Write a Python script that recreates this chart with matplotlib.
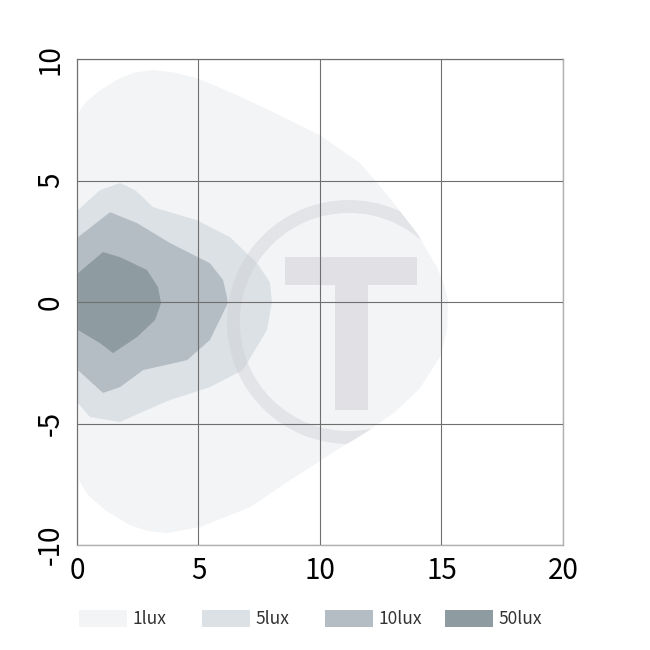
import matplotlib
matplotlib.use("Agg")
import matplotlib.pyplot as plt
from matplotlib.patches import Rectangle, Wedge

plt.rcParams['font.family'] = ['Noto Sans CJK SC', 'DejaVu Sans']

# isolux outlines (x in m, y in m)
lux1_x = [0.08, 0.25, 0.45, 0.95, 1.77, 2.4, 3.13, 4.0, 4.94, 6.58, 8.23, 10.0, 11.65, 12.88, 13.99, 14.81, 15.1, 15.27,
          15.23, 14.94, 14.12, 13.09, 11.85, 10.70, 8.77, 7.12, 5.06, 3.70, 2.9, 2.18, 1.15, 0.45, 0.08]
lux1_y = [7.82, 8.08, 8.31, 8.72, 9.22, 9.45, 9.55, 9.45, 9.22, 8.52, 7.74, 6.87, 5.72, 4.28, 2.84, 1.44, 0.75, 0.08,
          -1.15, -2.26, -3.54, -4.53, -5.39, -6.09, -7.33, -8.44, -9.26, -9.51, -9.42, -9.18, -8.56, -7.94, -7.33]

lux5_x = [0.04, 0.95, 1.77, 2.39, 3.13, 4.94, 6.30, 7.41, 7.94, 8.02, 7.82, 6.83, 5.47, 3.83, 2.88, 1.77, 0.53, 0.04]
lux5_y = [3.79, 4.61, 4.90, 4.61, 3.91, 3.37, 2.67, 1.60, 0.82, 0.0, -1.15, -2.80, -3.50, -4.03, -4.44, -4.94, -4.73, -4.16]

lux10_x = [0.04, 1.36, 2.47, 3.83, 5.47, 6.01, 6.17, 6.21, 6.01, 5.47, 4.53, 2.72, 1.77, 1.07, 0.04]
lux10_y = [2.67, 3.70, 3.25, 2.43, 1.60, 0.91, 0.21, -0.04, -0.45, -1.56, -2.39, -2.80, -3.50, -3.74, -2.80]

lux50_x = [0.04, 1.07, 1.77, 2.88, 3.33, 3.46, 3.21, 2.47, 1.48, 0.95, 0.04]
lux50_y = [1.19, 2.06, 1.85, 1.32, 0.62, -0.04, -0.74, -1.44, -2.10, -1.69, -1.15]

labels = ['1lux', '5lux', '10lux', '50lux']
colors = ['#f3f4f6', '#dce1e6', '#b4bdc3', '#8e9ba1']
ticks_x = [0, 5, 10, 15, 20]
ticks_y = [-10, -5, 0, 5, 10]

fig = plt.figure(figsize=(6.5, 6.5), dpi=100)
ax = fig.add_axes([0.1185, 0.1615, 0.7475, 0.7475])

outlines = [(lux1_x, lux1_y), (lux5_x, lux5_y), (lux10_x, lux10_y), (lux50_x, lux50_y)]
polys = []
for (xs, ys), c in zip(outlines, colors):
    polys += ax.fill(xs, ys, color=c, lw=0, zorder=1)

# faint logo watermark, only shows on the lit area
wm = (0.80, 0.80, 0.82)
marks = [Wedge((11.19, -0.82), 5.02, 0, 360, width=0.53, color=wm, alpha=0.4, lw=0, zorder=1.5),
         Rectangle((8.56, 0.70), 5.43, 1.15, color=wm, alpha=0.45, lw=0, zorder=1.5),
         Rectangle((10.62, -4.44), 1.36, 5.14, color=wm, alpha=0.45, lw=0, zorder=1.5)]
for m in marks:
    ax.add_patch(m)
    m.set_clip_path(polys[0])

ax.set_xlim(0, 20)
ax.set_ylim(-10, 10)
ax.set_xticks(ticks_x)
ax.set_yticks(ticks_y)
ax.set_xticklabels([str(t) for t in ticks_x], fontsize=20)
ax.set_yticklabels([str(t) for t in ticks_y], fontsize=20, rotation=90, va='center')
ax.tick_params(length=0, pad=8)
ax.grid(True, color='#6f6f6f', lw=0.8)
ax.set_axisbelow(False)
for s in ax.spines.values():
    s.set_color('#b0b0b0')
    s.set_linewidth(1.0)

# legend row
lx = [79, 202, 325, 445]
for x0, lab, c in zip(lx, labels, colors):
    fig.patches.append(Rectangle((x0 / 650, 23 / 650), 48 / 650, 17 / 650,
                                 transform=fig.transFigure, color=c, lw=0))
    fig.text((x0 + 53) / 650, 31.5 / 650, lab, fontsize=12.5, va='center', ha='left', color='#333333')

fig.savefig('out.png', dpi=100)
